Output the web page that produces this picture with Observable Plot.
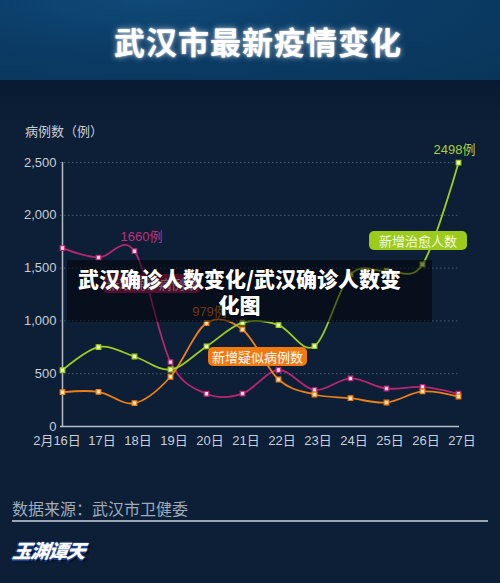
<!DOCTYPE html>
<html><head><meta charset="utf-8">
<script src="https://cdn.jsdelivr.net/npm/d3@7"></script>
<script src="https://cdn.jsdelivr.net/npm/@observablehq/plot@0.6"></script>
<style>
html,body{margin:0;padding:0;}
body{width:500px;height:583px;overflow:hidden;background:#0c1f37;font-family:"Liberation Sans","Noto Sans CJK SC",sans-serif;}
#wrap{position:relative;width:500px;height:583px;background:#0c1f37;}
#header{position:absolute;left:0;top:0;width:500px;height:80px;
  background:radial-gradient(ellipse at 30% 0%, #0f4a78 0%, #0b3c66 45%, #093559 100%);}
#title{position:absolute;left:0;top:21px;width:516px;text-align:center;color:#fff;font-family:"Noto Sans CJK SC",sans-serif;font-weight:700;font-size:31px;letter-spacing:1px;line-height:40px;text-shadow:0 0 6px rgba(255,255,255,0.65),0 0 2px rgba(255,255,255,0.8);}
#band{position:absolute;left:0;top:80px;width:500px;height:40px;background:linear-gradient(#071a31,#0c1f37);}
#chart{position:absolute;left:0;top:80px;}
#ylab{position:absolute;left:25px;top:121px;color:#c9ced6;font-family:"Noto Sans CJK SC",sans-serif;font-size:13px;}
.badge{position:absolute;height:19px;line-height:19px;border-radius:5px;font-family:"Noto Sans CJK SC",sans-serif;font-size:13px;text-align:center;color:#fff;}
#overlay{position:absolute;left:67px;top:260px;width:365px;height:62px;background:rgba(0,0,0,0.5);}
#overlay div{position:absolute;left:0;width:345px;text-align:center;color:#fff;font-family:"Noto Sans CJK SC",sans-serif;font-weight:900;font-size:21px;line-height:26px;text-shadow:0 0 2px #000;}
#source{position:absolute;left:12px;top:496px;color:#a0aab8;font-family:"Noto Sans CJK SC",sans-serif;font-size:16px;}
#rule{position:absolute;left:12px;top:520px;width:476px;height:1.5px;background:#9aa6b6;}
#logo{position:absolute;left:13px;top:536px;color:#fff;font-family:"Noto Sans CJK SC",sans-serif;font-weight:900;font-size:19px;font-style:italic;letter-spacing:-1px;transform:skewX(-8deg);
  text-shadow:-1.5px 0 #1d3f8a,1.5px 0 #1d3f8a,0 -1.5px #1d3f8a,0 1.5px #1d3f8a,2px 2px 2px #000;}
</style>
</head><body>
<div id="wrap">
  <div id="header"><div id="title">武汉市最新疫情变化</div></div>
  <div id="band"></div>
  <div id="ylab">病例数（例）</div>
  <div id="chart"></div>
  <div class="badge" id="b1" style="left:103px;top:274px;width:98px;background:#a3225d;color:#f3d4e4;">新增确诊病例数</div>
  <div class="badge" id="b2" style="left:208px;top:347px;width:99px;background:#f07a12;">新增疑似病例数</div>
  <div class="badge" id="b3" style="left:369px;top:231px;width:98px;background:#9dcb1c;color:#f4f9e6;">新增治愈人数</div>
  <div id="overlay"><div style="top:5px;">武汉确诊人数变化/武汉确诊人数变</div><div style="top:31px;">化图</div></div>
  <div id="source">数据来源：武汉市卫健委</div>
  <div id="rule"></div>
  <div id="logo">玉渊谭天</div>
</div>
<script>
const dates = ["2月16日","17日","18日","19日","20日","21日","22日","23日","24日","25日","26日","27日"];
const confirmed = [1690,1600,1660,610,310,312,535,345,455,360,375,310];
const suspected = [325,328,221,471,979,919,445,303,268,227,332,284];
const cured = [534,752,663,540,758,983,960,761,1440,1475,1535,2498];
const yTicks = [0,500,1000,1500,2000,2500];
const seriesNames = ["新增确诊病例数","新增疑似病例数","新增治愈人数"];
const lineColors = ["#b8266f","#ee7f16","#9fcc1e"];
const dotFills = ["#f8d8ea","#ffe6c8","#effad0"];
const callouts = [
  {series:0, date:"18日", value:1660, text:"1660例", color:"#c2307c", dx:7, dy:-14},
  {series:1, date:"20日", value:979, text:"979例", color:"#d8721a", dx:3, dy:-11},
  {series:2, date:"27日", value:2498, text:"2498例", color:"#a9cf3c", dx:-4, dy:-13}
];

const rows = [];
[confirmed, suspected, cured].forEach((arr, s) => {
  arr.forEach((v, i) => rows.push({s, name: seriesNames[s], date: dates[i], value: v}));
});

const fmt = d3.format(",");
const marks = [
  Plot.gridY(yTicks.filter(d => d > 0), {stroke:"#7f8fa6", strokeOpacity:0.55, strokeDasharray:"1.5,2.5", strokeWidth:1}),
  Plot.ruleY([0], {stroke:"#b4bcc8", strokeWidth:1.5}),
  Plot.ruleX([dates[0]], {y1:0, y2:2500, stroke:"#b4bcc8", strokeWidth:1.5}),
  Plot.axisY({ticks:yTicks, tickFormat:d => fmt(d), tickSize:0, tickPadding:4, fontSize:13, fill:"#c9ced6", label:null}),
  Plot.axisX({ticks:dates.slice(1), tickSize:0, tickPadding:9, fontSize:13, fill:"#c9ced6", label:null, dx:3.5}),
  Plot.axisX({ticks:dates.slice(0,1), tickSize:0, tickPadding:9, fontSize:13, fill:"#c9ced6", label:null, dx:-5.5})
];
[0,1,2].forEach(s => {
  const data = rows.filter(r => r.s === s);
  marks.push(Plot.line(data, {x:"date", y:"value", stroke:lineColors[s], strokeWidth:1.8, curve:"cardinal"}));
  marks.push(Plot.dot(data, {x:"date", y:"value", symbol:"square", r:2.6, fill:dotFills[s], stroke:lineColors[s], strokeWidth:1.2}));
});
callouts.forEach(c => {
  marks.push(Plot.text([c], {x:"date", y:"value", text:"text", fill:c.color, fontSize:13, dx:c.dx, dy:c.dy, fontFamily:"Liberation Sans, Noto Sans CJK SC, sans-serif"}));
});

const chart = Plot.plot({
  width:500, height:400,
  marginTop:82, marginBottom:54, marginLeft:60, marginRight:41,
  style:{background:"transparent", color:"#c9ced6", fontFamily:"Liberation Sans, Noto Sans CJK SC, sans-serif"},
  x:{type:"point", domain:dates, padding:0},
  y:{domain:[0,2500]},
  marks
});
document.getElementById("chart").appendChild(chart);
</script>
</body></html>
